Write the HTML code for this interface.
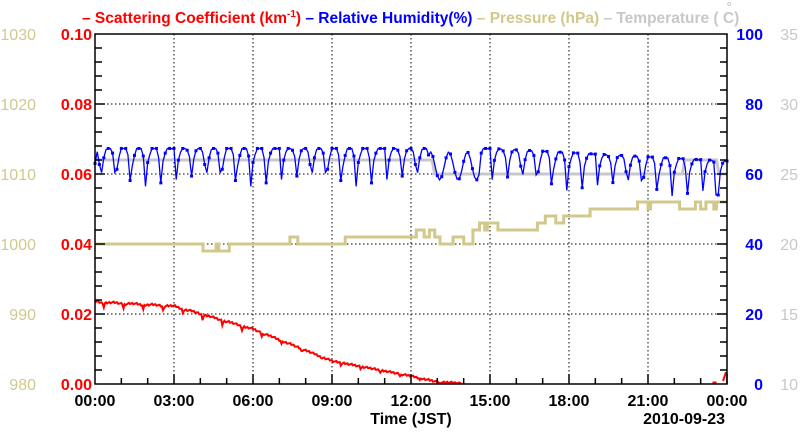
<!DOCTYPE html>
<html><head><meta charset="utf-8"><style>
html,body{margin:0;padding:0;background:#fff}
svg{display:block;font-family:"Liberation Sans",sans-serif;font-weight:bold}
</style></head><body>
<svg id="s" width="800" height="434" viewBox="0 0 800 434" xmlns="http://www.w3.org/2000/svg">
<text x="82" y="23" font-size="15.5" fill="#ff0000">– Scattering Coefficient (km<tspan font-size="10" dy="-6">-1</tspan><tspan dy="6">) </tspan><tspan fill="#0000ff">– Relative Humidity(%) </tspan><tspan fill="#d2c88c">– Pressure (hPa) </tspan><tspan fill="#c8c8c8">– Temperature ( C)</tspan></text>
<text x="727" y="6" font-size="7" fill="#c8c8c8">o</text>
<g id="g"></g>
</svg>
<script>
var L=95,R=727,T=34,B=384,W=R-L,H=B-T,ns="http://www.w3.org/2000/svg",g=document.getElementById('g');
function el(n,a,t){var e=document.createElementNS(ns,n);for(var k in a)e.setAttribute(k,a[k]);if(t!=null)e.textContent=t;g.appendChild(e);return e;}
function X(h){return L+h*W/24;}
for(var i=1;i<8;i++){var x=X(i*3);el('line',{x1:x,y1:T,x2:x,y2:B,stroke:'#000','stroke-dasharray':'1.5,2.5','stroke-width':1});}
for(var i=1;i<5;i++){var y=B-i*H/5;el('line',{x1:L,y1:y,x2:R,y2:y,stroke:'#000','stroke-dasharray':'1.5,2.5','stroke-width':1});}
var tp='M'+X(0)+',160 L'+X(12.8)+',160 L'+X(12.9)+',174 L'+X(22.3)+',174 L'+X(22.4)+',160 L'+X(23.6)+',160 L'+X(23.7)+',174 L'+X(24)+',174';
el('path',{d:tp,fill:'none',stroke:'#c8c8c8','stroke-width':3});
var steps=[[0,1000],[4.1,999],[4.6,1000],[4.7,999],[5.1,1000],[7.4,1001],[7.7,1000],[9.5,1001],[12.2,1002],[12.5,1001],[12.7,1002],[12.9,1001],[13.1,1000],[13.6,1001],[14.0,1000],[14.35,1002],[14.6,1003],[14.8,1002],[14.9,1003],[15.3,1002],[16.8,1003],[17.1,1004],[17.5,1003],[17.8,1004],[18.8,1005],[20.6,1006],[21.0,1005],[21.1,1006],[22.2,1005],[22.8,1006],[23.0,1005],[23.2,1006],[23.5,1005],[23.6,1006],[24,1006]];
var pp='';
steps.forEach(function(s,i){var y=(B-(s[1]-980)*7).toFixed(1);if(i==0)pp='M'+X(0)+','+y;else{pp+='L'+X(s[0]).toFixed(1)+','+(B-(steps[i-1][1]-980)*7).toFixed(1)+'L'+X(s[0]).toFixed(1)+','+y;}});
el('path',{d:pp,fill:'none',stroke:'#d2c88c','stroke-width':3});
var hp='',hpts=[];
for(var k=0;k<=288;k++){var h=k/12;var ph=(h*1.75+0.75)%1;var hb=67.3-(h>15?(h-15)*0.4:0);
 var v;if(ph<0.1)v=hb-11*(ph/0.1);else if(ph<0.25)v=hb-11+(ph-0.1)/0.15*7;else if(ph<0.5)v=hb-4+4*(ph-0.25)/0.25;else if(ph<0.85)v=hb;else v=hb-3*(ph-0.85)/0.15;
 if(h>12.6&&h<14.6)v=hb-5+Math.sin(h*9)*4;
 if(h>23.5&&h<23.7)v=54;
 if(k==0)v=63;
 hpts.push([X(h),B-v*3.5]);}
hpts.forEach(function(p,i){hp+=(i?'L':'M')+p[0].toFixed(1)+','+p[1].toFixed(1);});
el('path',{d:hp,fill:'none',stroke:'#0000ff','stroke-width':1.3});
hpts.forEach(function(p,i){if(i%2==0)el('rect',{x:p[0]-1.5,y:p[1]-1.5,width:3,height:3,fill:'#0000ff'});});
var kn=[[0,0.0232],[3,0.022],[6,0.0155],[9,0.0065],[12,0.0022],[13,0.0005],[13.8,0.0002]];
function sbase(h){for(var i=1;i<kn.length;i++){if(h<=kn[i][0]){var a=kn[i-1],b=kn[i];return a[1]+(b[1]-a[1])*(h-a[0])/(b[0]-a[0]);}}return 0.0002;}
var sp='';
for(var k=0;k<=334;k++){var h=k/24;var ph=(h*1.33+0.6)%1;var v=sbase(h);var amp=0.002*Math.max(v/0.023,0.3);
 if(ph<0.1)v-=amp*(1-ph/0.1);else v+=amp*0.2*Math.sin((ph-0.1)/0.9*Math.PI);
 v+=((k*37)%7-3)*0.00008;
 if(v<0.0002)v=0.0002;sp+=(k?'L':'M')+X(h).toFixed(1)+','+(B-v*3500).toFixed(1);}
el('path',{d:sp,fill:'none',stroke:'#ff0000','stroke-width':2});
el('path',{d:'M'+X(23.45)+','+(B-1.5)+' L'+X(23.6)+','+(B-1.5)+' M'+X(23.85)+','+(B-3)+' L'+X(23.95)+','+(B-11)+' L'+X(24)+','+(B-11),fill:'none',stroke:'#ff0000','stroke-width':2});
el('rect',{x:L,y:T,width:W,height:H,fill:'none',stroke:'#000','stroke-width':1.5});
for(var i=1;i<25;i++){var x=X(i);var len=i%3?6:10;el('line',{x1:x,y1:B,x2:x,y2:B-len,stroke:'#000','stroke-width':1.5});}
for(var i=1;i<25;i++){var y=B-i*H/25;var len=i%5?7:10;el('line',{x1:L,y1:y,x2:L+len,y2:y,stroke:'#000','stroke-width':1.5});el('line',{x1:R,y1:y,x2:R-len,y2:y,stroke:'#000','stroke-width':1.5});}
var fs=16;
for(var i=0;i<6;i++){var y=B-i*H/5+6;
 el('text',{x:36,y:y,'font-size':fs,fill:'#d2c88c','text-anchor':'end','font-weight':'normal'},980+i*10);
 el('text',{x:92,y:y,'font-size':fs,fill:'#ff0000','text-anchor':'end'},(i*0.02).toFixed(2));
 el('text',{x:763,y:y,'font-size':fs,fill:'#0000ff','text-anchor':'end'},i*20);
 el('text',{x:798,y:y,'font-size':fs,fill:'#c8c8c8','text-anchor':'end','font-weight':'normal'},10+i*5);}
for(var i=0;i<9;i++){var t=(i*3)%24;el('text',{x:X(i*3),y:406,'font-size':fs,fill:'#000','text-anchor':'middle'},(t<10?'0':'')+t+':00');}
el('text',{x:411,y:424,'font-size':fs,fill:'#000','text-anchor':'middle'},'Time (JST)');
el('text',{x:725,y:424,'font-size':fs,fill:'#000','text-anchor':'end'},'2010-09-23');
</script>
</body></html>
